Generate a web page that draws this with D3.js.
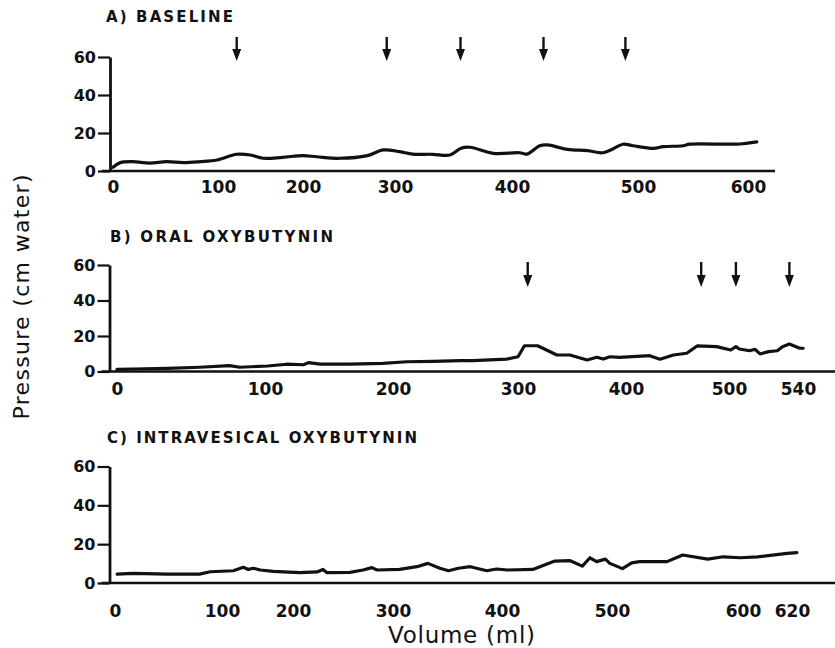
<!DOCTYPE html>
<html>
<head>
<meta charset="utf-8">
<script src="https://cdn.jsdelivr.net/npm/d3@7"></script>
<style>
  html, body { margin: 0; padding: 0; background: #fff; }
  svg { display: block; }
  text { font-family: "DejaVu Sans", sans-serif; fill: #111; }
</style>
</head>
<body>
<svg id="chart" width="835" height="648"></svg>
<script>
// ---------------- DATA ----------------
const panelTitles = ["A) BASELINE", "B) ORAL OXYBUTYNIN", "C) INTRAVESICAL OXYBUTYNIN"];
const yAxisTitle = "Pressure (cm water)";
const xAxisTitle = "Volume (ml)";
const yTicks = [0, 20, 40, 60];

const xTicksA = [0, 100, 200, 300, 400, 500, 600];
const xTicksB = [0, 100, 200, 300, 400, 500, 540];
const xTicksC = [0, 100, 200, 300, 400, 500, 600, 620];

// A) Baseline
const volumeA = [0, 7, 19, 35, 51, 67, 83, 99, 122, 138, 153, 176, 200, 215, 240, 270, 287, 304, 315, 332, 347, 356, 364, 384, 406, 412, 422, 428, 444, 460, 472, 480, 488, 496, 514, 523, 541, 547, 593, 608];
const pressureA = [2.0, 4.4, 4.9, 4.1, 4.9, 4.4, 4.9, 5.8, 8.8, 8.4, 6.7, 7.2, 8.1, 7.5, 6.7, 8.1, 11.1, 10.2, 8.9, 8.8, 8.4, 11.9, 12.5, 9.3, 9.6, 8.9, 13.3, 13.7, 11.4, 10.7, 9.6, 11.6, 14.1, 13.3, 11.9, 12.8, 13.3, 14.1, 14.2, 15.3];
const arrowsA = [122, 291, 356, 425, 490];

// B) Oral oxybutynin
const volumeB = [0, 11, 34, 56, 76, 83, 102, 117, 130, 134, 143, 166, 192, 211, 232, 254, 264, 291, 300, 306, 318, 323, 336, 348, 364, 373, 379, 385, 394, 423, 433, 446, 459, 469, 488, 501, 504, 506, 512, 515, 518, 523, 528, 531, 535, 541, 543];
const pressureB = [1.2, 1.4, 1.8, 2.4, 3.3, 2.4, 3.1, 4.1, 3.8, 5.0, 4.2, 4.1, 4.6, 5.5, 5.7, 6.1, 6.1, 7.0, 8.3, 14.5, 14.5, 13.1, 9.3, 9.3, 6.5, 8.0, 7.0, 8.3, 8.0, 8.9, 6.9, 9.3, 10.3, 14.4, 14.0, 12.1, 14.0, 12.7, 11.7, 12.5, 9.9, 11.2, 11.7, 14.0, 15.5, 13.1, 13.1];
const arrowsB = [309, 473, 504, 535];

// C) Intravesical oxybutynin
const volumeC = [2, 17, 49, 79, 89, 116, 130, 137, 144, 154, 172, 207, 224, 230, 234, 257, 270, 279, 284, 306, 322, 332, 343, 351, 360, 371, 386, 395, 405, 428, 448, 462, 473, 480, 486, 494, 498, 508, 515, 521, 542, 554, 573, 585, 598, 606, 618, 622];
const pressureC = [4.6, 5.0, 4.6, 4.6, 5.8, 6.3, 8.1, 7.0, 7.6, 6.7, 6.0, 5.3, 5.7, 7.0, 5.3, 5.5, 6.7, 7.9, 6.7, 7.0, 8.4, 10.1, 7.6, 6.3, 7.6, 8.4, 6.3, 7.2, 6.7, 7.0, 11.3, 11.5, 8.7, 13.0, 11.0, 12.3, 10.1, 7.4, 10.4, 11.0, 11.0, 14.4, 12.3, 13.5, 13.0, 13.5, 15.3, 15.6];
const arrowsC = [];

// ---------------- LAYOUT ----------------
const panels = [
  { title: panelTitles[0], titleY: 22, titleX: 106, titleLen: 127,
    xTicks: xTicksA, xPx: [113, 218, 303, 395, 512, 638, 748],
    y0: 171, y60: 57, axisX: 110, axisEnd: 775, labelY: 193,
    vol: volumeA, p: pressureA, arrows: arrowsA, arrowTop: 37, arrowTip: 61,
    curve: d3.curveCatmullRom },
  { title: panelTitles[1], titleY: 242, titleX: 110, titleLen: 223,
    xTicks: xTicksB, xPx: [117, 265, 393, 518, 626, 729, 798],
    y0: 371.5, y60: 265, axisX: 109.5, axisEnd: 835, labelY: 395,
    vol: volumeB, p: pressureB, arrows: arrowsB, arrowTop: 262, arrowTip: 287,
    curve: d3.curveLinear },
  { title: panelTitles[2], titleY: 443, titleX: 107, titleLen: 310,
    xTicks: xTicksC, xPx: [115, 222, 293, 393, 502, 612, 743, 792],
    y0: 583, y60: 466.5, axisX: 109.5, axisEnd: 835, labelY: 617,
    vol: volumeC, p: pressureC, arrows: arrowsC, arrowTop: 0, arrowTip: 0,
    curve: d3.curveLinear }
];

const svg = d3.select("#chart");

panels.forEach(P => {
  const g = svg.append("g");
  const x = d3.scaleLinear().domain(P.xTicks).range(P.xPx);
  const y = d3.scaleLinear().domain([0, 60]).range([P.y0, P.y60]);

  // title
  g.append("text")
    .attr("x", P.titleX).attr("y", P.titleY)
    .attr("font-size", 15).attr("font-weight", "bold")
    .attr("textLength", P.titleLen).attr("lengthAdjust", "spacing")
    .text(P.title);

  // y axis
  const yAxis = d3.axisLeft(y).tickValues(yTicks).tickSize(12).tickSizeOuter(0).tickPadding(2);
  const ya = g.append("g").attr("transform", `translate(${P.axisX},0)`).call(yAxis);
  ya.select(".domain").attr("stroke", "#111").attr("stroke-width", 2.8);
  ya.selectAll(".tick line").attr("stroke", "#111").attr("stroke-width", 2.2);
  ya.selectAll(".tick text").attr("font-size", 16).attr("font-weight", "bold").attr("fill", "#111")
    .attr("font-family", "DejaVu Sans, sans-serif");

  // x baseline
  g.append("line")
    .attr("x1", P.axisX - 8).attr("x2", P.axisEnd)
    .attr("y1", y(0)).attr("y2", y(0))
    .attr("stroke", "#111").attr("stroke-width", 2.6);

  // x tick labels
  const xAxis = d3.axisBottom(x).tickValues(P.xTicks).tickSize(0).tickPadding(0).tickFormat(d3.format("d"));
  const xa = g.append("g").attr("transform", `translate(0,${P.labelY})`).call(xAxis);
  xa.select(".domain").remove();
  xa.selectAll(".tick text").attr("font-size", 17).attr("font-weight", "bold").attr("fill", "#111")
    .attr("dy", 0).attr("font-family", "DejaVu Sans, sans-serif");

  // pressure trace
  const data = P.vol.map((v, i) => ({ v, p: P.p[i] }));
  g.append("path")
    .datum(data)
    .attr("fill", "none").attr("stroke", "#111").attr("stroke-width", 3.2)
    .attr("stroke-linejoin", "round").attr("stroke-linecap", "round")
    .attr("d", d3.line().x(d => x(d.v)).y(d => y(d.p)).curve(P.curve));

  // arrows
  P.arrows.forEach(a => {
    const ax = x(a);
    g.append("line")
      .attr("x1", ax).attr("x2", ax)
      .attr("y1", P.arrowTop).attr("y2", P.arrowTip - 8)
      .attr("stroke", "#111").attr("stroke-width", 2.4);
    g.append("path")
      .attr("d", `M${ax - 4.5},${P.arrowTip - 12}L${ax + 4.5},${P.arrowTip - 12}L${ax},${P.arrowTip}Z`)
      .attr("fill", "#111");
  });
});

// axis titles
svg.append("text")
  .attr("transform", "translate(29,297) rotate(-90)")
  .attr("text-anchor", "middle")
  .attr("font-size", 22)
  .attr("textLength", 245).attr("lengthAdjust", "spacing")
  .text(yAxisTitle);

svg.append("text")
  .attr("x", 388).attr("y", 643)
  .attr("font-size", 23)
  .attr("textLength", 147).attr("lengthAdjust", "spacing")
  .text(xAxisTitle);
</script>
</body>
</html>
